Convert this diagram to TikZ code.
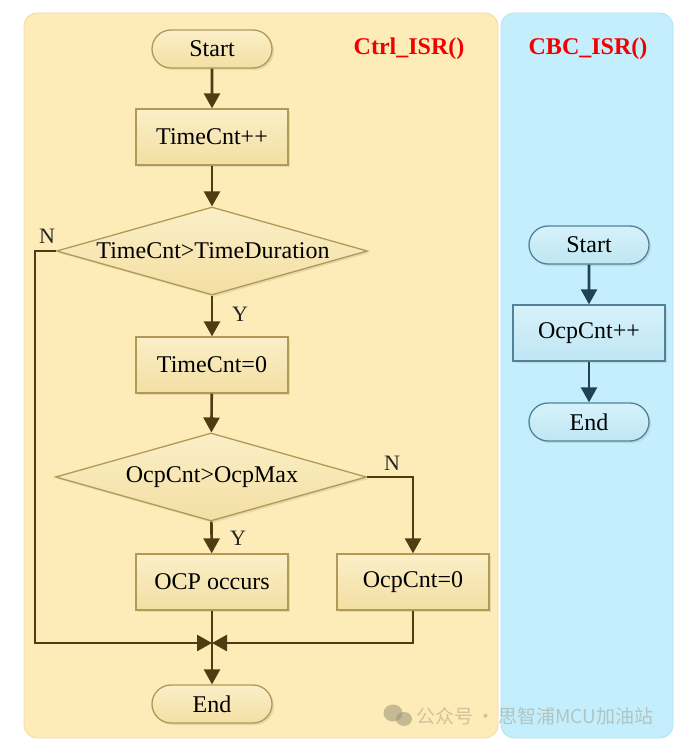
\documentclass[tikz,border=0pt]{standalone}
\usepackage{fontspec}
\setmainfont{Liberation Serif}
\newfontfamily\cjkfont{Noto Sans CJK SC}
\usetikzlibrary{shapes.misc,shapes.geometric,arrows.meta,shadows}
\definecolor{ypanel}{HTML}{FDEBB8}
\definecolor{ypaneledge}{HTML}{F5D9A8}
\definecolor{bpanel}{HTML}{C5EEFC}
\definecolor{bpanedge}{HTML}{B2E2F2}
\definecolor{yfilltop}{HTML}{FBEFC8}
\definecolor{yfillbot}{HTML}{F3DFA2}
\definecolor{yedge}{HTML}{B09A55}
\definecolor{yarrow}{HTML}{4E3C12}
\definecolor{bfilltop}{HTML}{D6F2FB}
\definecolor{bfillbot}{HTML}{BFE6F3}
\definecolor{bedge}{HTML}{4F8399}
\definecolor{barrow}{HTML}{1F4352}
\definecolor{titlered}{HTML}{F00000}
\definecolor{wm}{HTML}{9A9278}
\tikzset{
  every node/.style={font=\fontsize{24}{28}\selectfont, inner sep=0pt},
  ybox/.style={draw=yedge, line width=1.3pt, top color=yfilltop, bottom color=yfillbot,
     drop shadow={opacity=0.18, shadow xshift=2pt, shadow yshift=-2pt}},
  bbox/.style={draw=bedge, line width=1.3pt, top color=bfilltop, bottom color=bfillbot,
     drop shadow={opacity=0.18, shadow xshift=2pt, shadow yshift=-2pt}},
  procbox/.style={rectangle, minimum width=152pt, minimum height=56pt},
  termbox/.style={rounded rectangle, minimum width=120pt, minimum height=38pt},
  decbox/.style={diamond, minimum width=311pt, minimum height=88pt},
  yline/.style={draw=yarrow, line width=2.6pt},
  yarr/.style={yline, -{Triangle[length=15pt,width=16pt]}},
  bline/.style={draw=barrow, line width=2.6pt},
  barr/.style={bline, -{Triangle[length=15pt,width=16pt]}},
  lbl/.style={font=\fontsize{22}{26}\selectfont, text=black!85},
  title/.style={font=\bfseries\fontsize{24}{28}\selectfont, text=titlered},
}
\begin{document}
\begin{tikzpicture}[x=1pt,y=-1pt]
\useasboundingbox (0,0) rectangle (694,741);
\fill[white] (0,0) rectangle (694,741);
% panels
\draw[ypaneledge, fill=ypanel, line width=0.8pt, rounded corners=13pt] (24,13) rectangle (498,738);
\draw[bpanedge, fill=bpanel, line width=0.8pt, rounded corners=13pt] (501,13) rectangle (673,738);
% titles
\node[title] (t1) at (409,49) {Ctrl\_ISR()};
\node[title] (t2) at (588,49) {CBC\_ISR()};
% left flow
\node[termbox, ybox] (s1) at (212,49) {Start};
\node[procbox, ybox] (p1) at (212,137) {TimeCnt++};
\node[decbox, ybox] (d1) at (212,251) {};
\node (d1t) at (213,251) {TimeCnt>TimeDuration};
\node[procbox, ybox] (p2) at (212,365) {TimeCnt=0};
\node[decbox, ybox] (d2) at (211,477) {};
\node (d2t) at (212,477) {OcpCnt>OcpMax};
\node[procbox, ybox] (p3) at (212,582) {OCP occurs};
\node[procbox, ybox] (p4) at (413,582) {OcpCnt=0};
\node[termbox, ybox] (e1) at (212,704) {End};
\coordinate (m) at (212,643);
\coordinate (ml) at (35,251);
\coordinate (mlb) at (35,643);
\coordinate (mr) at (413,477);
\coordinate (mrb) at (413,643);
\draw[yarr] (s1) -- (p1);
\draw[yarr] (p1) -- (d1);
\draw[yarr] (d1) -- (p2);
\draw[yarr] (p2) -- (d2);
\draw[yarr] (d2) -- (p3);
\draw[yarr] (d2.east) -- (mr) -- (p4);
\draw[yline] (p3) -- (m);
\draw[yarr] (m) -- (e1);
\draw[yarr] (d1.west) -- (ml) -- (mlb) -- (m);
\draw[yarr] (p4) -- (mrb) -- (m);
\node[lbl] (n1) at (47,236) {N};
\node[lbl] (y1) at (240,314) {Y};
\node[lbl] (n2) at (392,463) {N};
\node[lbl] (y2) at (238,538) {Y};
% right flow
\node[termbox, bbox] (s2) at (589,245) {Start};
\node[procbox, bbox] (p5) at (589,333) {OcpCnt++};
\node[termbox, bbox] (e2) at (589,422) {End};
\draw[barr] (s2) -- (p5);
\draw[barr] (p5) -- (e2);
% watermark
\fill[wm, opacity=0.55] (393,713) ellipse (9.5pt and 8.5pt);
\fill[wm, opacity=0.55] (404,719) ellipse (8pt and 7pt);
\node[font=\cjkfont\fontsize{19}{22}\selectfont, text=wm, opacity=0.45, anchor=west] (wmt) at (416,716) {公众号\,·\,思智浦MCU加油站};
\end{tikzpicture}
\end{document}
